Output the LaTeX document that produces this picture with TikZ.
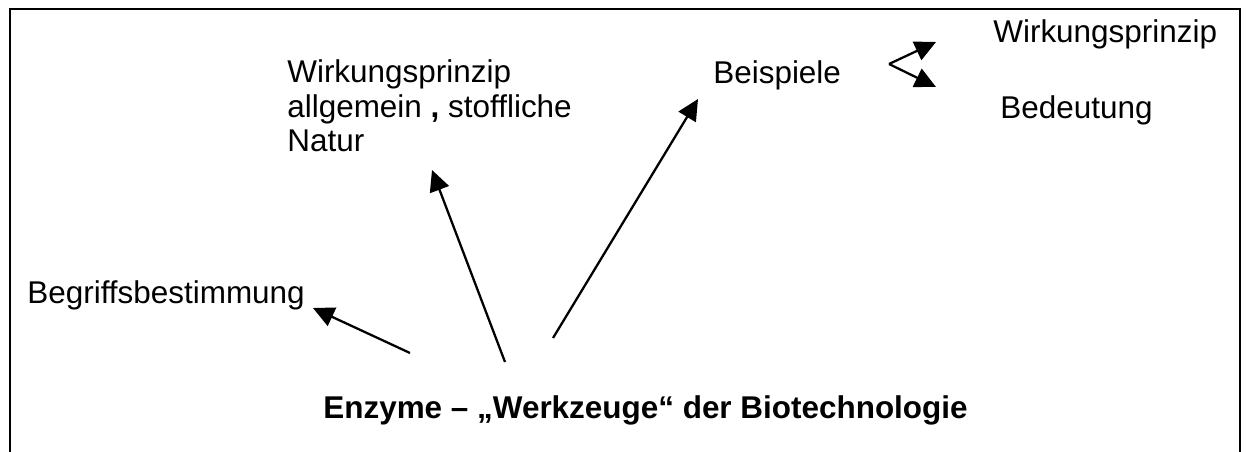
\documentclass[tikz,border=0pt]{standalone}
\usepackage{fontspec}
\setmainfont{Liberation Sans}
\usetikzlibrary{arrows.meta}
\begin{document}
\begin{tikzpicture}[x=0.02cm,y=-0.02cm,
  lbl/.style={inner sep=0pt, font=\fontsize{17.9}{19.9}\selectfont},
  conn/.style={line width=1.3pt, -{Triangle[length=0.42cm,width=0.4cm]}},
  frame/.style={line width=1.5pt}]
\useasboundingbox (0,0) rectangle (1250,452);
\draw[frame] (10,452) -- (10,9) -- (1240,9) -- (1240,452);
% labels
\node[lbl, anchor=base west, align=left] (wa) at (287,152) {Wirkungsprinzip\\allgemein \textbf{,} stoffliche\\Natur};
\node[lbl, anchor=base west] (bs) at (713,84) {Beispiele};
\node[lbl, anchor=base west] (wp) at (993,43) {Wirkungsprinzip};
\node[lbl, anchor=base west] (bd) at (1000,119) {Bedeutung};
\node[lbl, anchor=base west] (bb) at (27,304) {Begriffsbestimmung};
\node[lbl, anchor=base west, font=\fontsize{17.9}{19.9}\selectfont\bfseries] (en) at (323,418) {Enzyme – „Werkzeuge“ der Biotechnologie};
% connector end points
\coordinate (s1) at (410,353);
\coordinate (t1) at (313,308);
\coordinate (s2) at (505,362);
\coordinate (t2) at (432,170);
\coordinate (s3) at (553,338);
\coordinate (t3) at (698,99);
\coordinate (v) at (889,64);
\coordinate (t4) at (936,42);
\coordinate (t5) at (936,87);
\draw[conn] (s1) -- (t1);
\draw[conn] (s2) -- (t2);
\draw[conn] (s3) -- (t3);
\draw[conn] (v) -- (t4);
\draw[conn] (v) -- (t5);
\end{tikzpicture}
\end{document}
